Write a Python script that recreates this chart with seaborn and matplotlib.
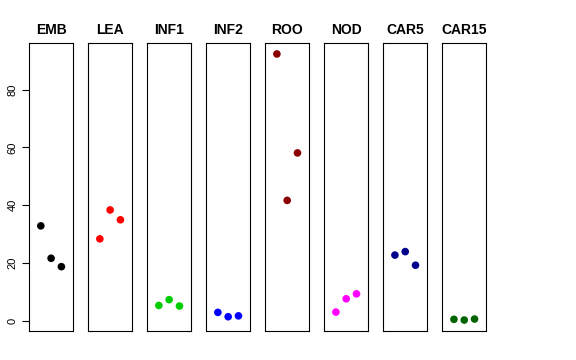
import pandas as pd
import seaborn as sns
import matplotlib
matplotlib.use("Agg")
import matplotlib.pyplot as plt

# values, three replicates per tissue
tissues = ['EMB', 'LEA', 'INF1', 'INF2', 'ROO', 'NOD', 'CAR5', 'CAR15']
emb = [32.9, 21.7, 18.8]
lea = [28.4, 38.4, 35.0]
inf1 = [5.4, 7.4, 5.2]
inf2 = [3.0, 1.5, 1.8]
roo = [92.3, 41.7, 58.1]
nod = [3.1, 7.7, 9.4]
car5 = [22.8, 24.0, 19.3]
car15 = [0.6, 0.35, 0.7]
colors = ['black', 'red', '#00CD00', 'blue', '#8B0000', 'magenta', '#00008B', '#006400']

values = [emb, lea, inf1, inf2, roo, nod, car5, car15]
df = pd.DataFrame({
    'tissue': [t for t, v in zip(tissues, values) for _ in v],
    'rep': [i + 1 for v in values for i in range(len(v))],
    'value': [x for v in values for x in v],
})

sns.set_style('white')
plt.rcParams['font.family'] = ['Liberation Sans', 'DejaVu Sans']
plt.rcParams['text.color'] = 'black'
plt.rcParams['ytick.color'] = 'black'
plt.rcParams['ytick.labelcolor'] = 'black'

allv = df['value']
pad = (allv.max() - allv.min()) * 0.04
ylim = (allv.min() - pad, allv.max() + pad)

fig, axes = plt.subplots(1, len(tissues), figsize=(5.76, 3.6), dpi=100, sharey=True)
fig.subplots_adjust(left=0.0503, right=0.8444, bottom=0.0814, top=0.8797, wspace=0.333)

for ax, t, c in zip(axes, tissues, colors):
    sub = df[df['tissue'] == t]
    sns.scatterplot(data=sub, x='rep', y='value', color=c, s=30, edgecolor='none', ax=ax)
    ax.set_xlim(-0.15, 4.15)
    ax.set_ylim(*ylim)
    ax.set_title(t, fontsize=10, fontweight='bold', pad=7, color='black')
    ax.set_xlabel('')
    ax.set_ylabel('')
    ax.set_xticks([])
    for sp in ax.spines.values():
        sp.set_visible(True)
        sp.set_color('black')
        sp.set_linewidth(0.8)
    ax.tick_params(axis='y', left=False, labelleft=False)

ax0 = axes[0]
ax0.set_yticks([0, 20, 40, 60, 80])
ax0.tick_params(axis='y', left=True, labelleft=True, length=5, width=0.8,
                direction='out', labelsize=8, pad=3, colors='black')
for lab in ax0.get_yticklabels():
    lab.set_rotation(90)
    lab.set_va('center')

plt.savefig('out.png', dpi=100)
